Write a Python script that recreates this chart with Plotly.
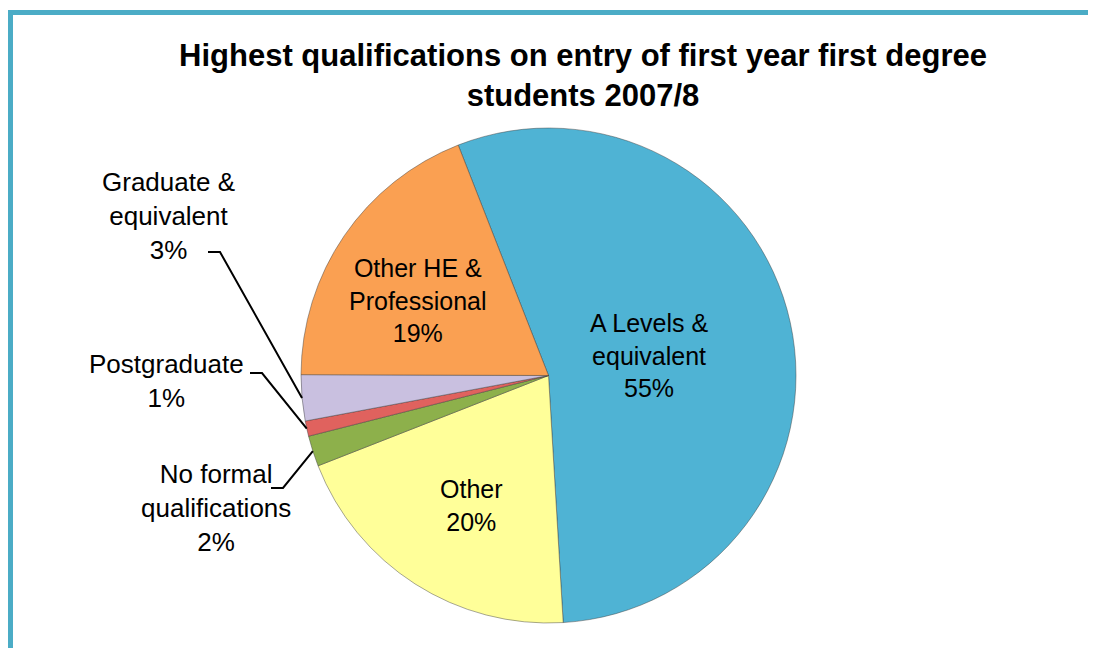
import math
import plotly.graph_objects as go

# ---- data ----
labels = ["A Levels &<br>equivalent", "Other", "No formal<br>qualifications",
          "Postgraduate", "Graduate &<br>equivalent", "Other HE &<br>Professional"]
values = [55, 20, 2, 1, 3, 19]
colors = ["#4FB3D4", "#FFFF99", "#8DB04B", "#E0625E", "#C9C0E0", "#FAA052"]
inside = [True, True, False, False, False, True]

W, H = 1096, 648
OFF = 8  # page body margin offset
cx, cy, R = 548.5 - OFF, 375.5 - OFF, 247.5
rotation = -21.4
FONT = "Liberation Sans, Arial"


def px_x(x):
    return (x - OFF) / W


def px_y(y):
    return 1 - (y - OFF) / H


fig = go.Figure()
fig.add_trace(go.Pie(
    labels=labels,
    values=values,
    sort=False,
    direction="clockwise",
    rotation=rotation,
    marker=dict(colors=colors, line=dict(color="rgba(60,60,60,0.45)", width=1)),
    textinfo="none",
    showlegend=False,
    hoverinfo="label+percent",
    domain=dict(x=[(cx - R) / W, (cx + R) / W], y=[1 - (cy + R) / H, 1 - (cy - R) / H]),
))

# label positions (text centres, page pixels) and elbow leader lines for small slices
label_pos = {0: (649, 355), 1: (471, 505), 2: (216, 508), 3: (166, 381), 4: (168, 216), 5: (418, 300)}
elbow = {2: (283, 488), 3: (262, 373), 4: (220, 252)}
total = sum(values)
cum = 0
for i, v in enumerate(values):
    start = cum
    cum += v
    lx, ly = label_pos[i]
    pct = f"{round(v / total * 100)}%"
    fig.add_annotation(x=px_x(lx), y=px_y(ly), xref="paper", yref="paper",
                       xanchor="center", yanchor="middle",
                       text=labels[i] + "<br>" + pct, showarrow=False,
                       font=dict(family=FONT, size=26 if not inside[i] else 25, color="black"),
                       align="center")
    if inside[i]:
        continue
    mid = rotation + (start + v / 2) / total * 360
    px = cx + R * math.sin(math.radians(mid))
    py = cy - R * math.cos(math.radians(mid))
    ex, ey = elbow[i]
    fig.add_shape(type="path", xref="paper", yref="paper",
                  path=f"M {px_x(ex - 12)} {px_y(ey)} L {px_x(ex)} {px_y(ey)} L {px / W} {1 - py / H}",
                  line=dict(color="black", width=2))

# chart border
fig.add_shape(type="path", xref="paper", yref="paper",
              path=f"M {px_x(10.5)} {px_y(700)} L {px_x(10.5)} {px_y(12.5)} L {px_x(1090)} {px_y(12.5)}",
              line=dict(color="#4BACC6", width=5))

fig.update_layout(
    width=W, height=H,
    margin=dict(l=0, r=0, t=0, b=0),
    paper_bgcolor="white",
    plot_bgcolor="white",
    title=dict(text="Highest qualifications on entry of first year first degree<br>students 2007/8",
               x=px_x(583), xanchor="center", y=px_y(66), yanchor="top",
               font=dict(family=FONT, size=31, color="black", weight="bold")),
)

fig.write_html("out.html")
